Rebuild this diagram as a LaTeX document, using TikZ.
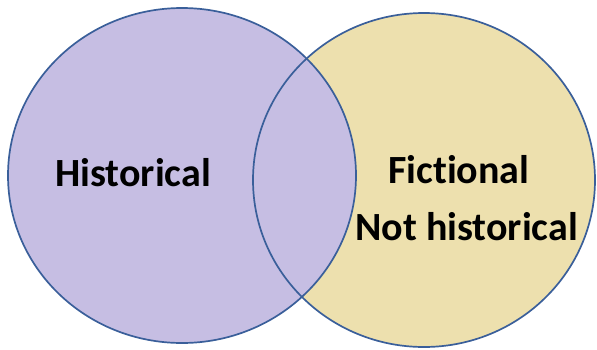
\documentclass[tikz,border=0pt]{standalone}
\usepackage{fontspec}
\setmainfont{Carlito}[Ligatures=NoCommon]
\definecolor{purplefill}{HTML}{C6BEE3}
\definecolor{yellowfill}{HTML}{EDE0AE}
\definecolor{rim}{HTML}{3A5F9A}
\tikzset{
  rimline/.style={draw=rim, line width=1.7pt},
  label/.style={inner sep=0pt, anchor=base west, font=\fontsize{40}{48}\selectfont\bfseries, text=black}
}
\begin{document}
\begin{tikzpicture}[x=1pt,y=-1pt]
\useasboundingbox (0,0) rectangle (597,349);
\coordinate (lc) at (182,175.5);
\coordinate (rc) at (424,180);
\fill[yellowfill] (rc) ellipse [x radius=171, y radius=167];
\fill[purplefill] (lc) ellipse [x radius=174, y radius=167.5];
\draw[rimline] (rc) ellipse [x radius=171, y radius=167];
\draw[rimline] (lc) ellipse [x radius=174, y radius=167.5];
\node[label] (hist) at (55,186) {Historical};
\node[label] (fict) at (388,183) {Fictional};
\node[label] (nothist) at (355,240) {Not historical};
\end{tikzpicture}
\end{document}
